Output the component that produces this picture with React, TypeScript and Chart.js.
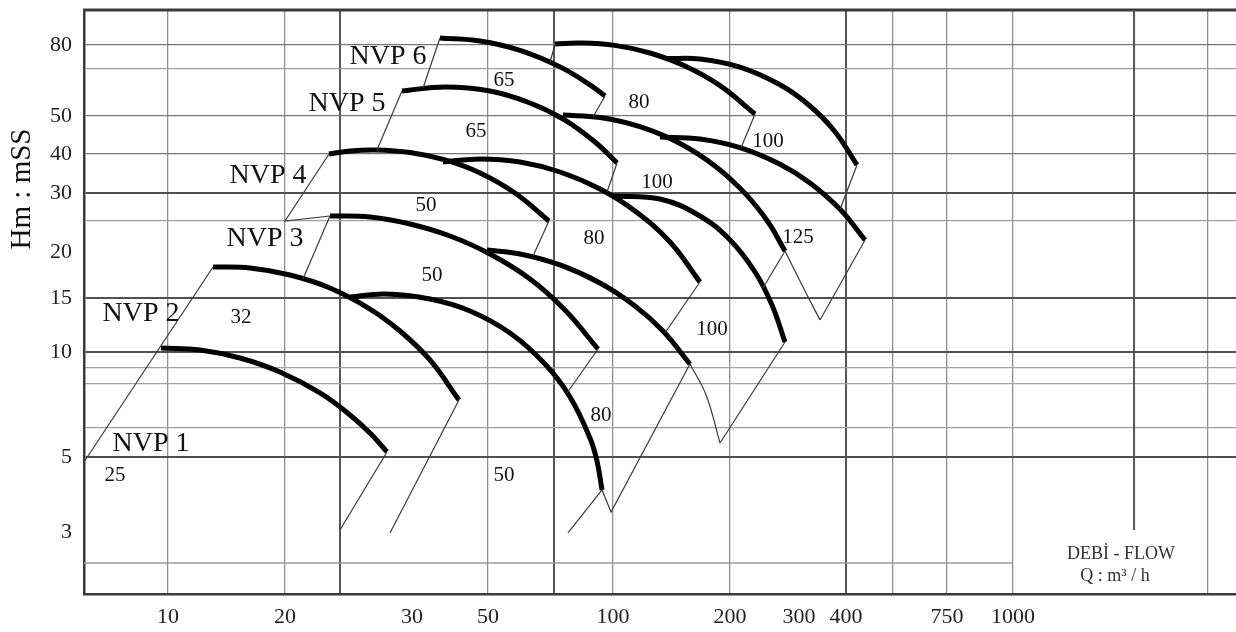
import React, { useEffect, useRef } from "react";
import { Chart, registerables } from "chart.js";

Chart.register(...registerables);

const FONT = "'Liberation Serif', 'Times New Roman', serif";

// Both axes are position axes (0–100 % of the plot width / height),
// because the printed flow and head scales are irregular; tick texts are placed at their read positions.
const X_MIN = 0;
const X_MAX = 100;
const Y_MIN = 0;
const Y_MAX = 100;

const xLabelPos = [7.29, 17.45, 28.47, 35.07, 45.92, 56.08, 62.07, 66.15, 74.91, 80.64];
const xLabels = ["10", "20", "30", "50", "100", "200", "300", "400", "750", "1000"];
const xGrid = [7.29, 17.45, 22.22, 35.07, 40.8, 45.92, 56.08, 66.15, 70.23, 74.91, 80.64, 97.57];
const xGridMajor = [22.22, 40.8, 66.15];
const xGridPartial = [91.15];
const xGridPartialEnd = [10.96];

const yLabelPos = [94.01, 81.85, 75.34, 68.66, 58.56, 50.68, 41.44, 23.46, 10.62];
const yLabels = ["80", "50", "40", "30", "20", "15", "10", "5", "3"];
const yGrid = [94.01, 89.9, 81.85, 75.34, 68.66, 63.87, 50.68, 41.44, 38.7, 35.96, 28.42, 23.46];
const yGridMajor = [68.66, 50.68, 41.44, 23.46];
const yGridMid = [94.01, 81.85, 75.34];
const yGridPartial = [5.31];
const yGridPartialEnd = [80.64];

// pump curves [x, y]
const nvp1_25 = [[6.68, 42.12], [10.07, 41.78], [13.54, 40.41], [17.01, 38.01], [20.49, 34.42], [23.09, 30.65], [25.0, 27.23], [26.3, 24.32]];
const nvp2_32 = [[11.2, 55.99], [14.41, 55.82], [17.88, 54.62], [21.35, 52.4], [24.83, 48.8], [27.43, 45.03], [30.03, 40.07], [32.55, 33.22]];
const nvp3_50a = [[21.35, 64.73], [24.83, 64.55], [28.3, 63.36], [31.77, 61.3], [35.24, 58.22], [38.72, 53.94], [41.75, 48.63], [44.62, 41.95]];
const nvp3_50b = [[23.09, 50.86], [26.13, 51.37], [30.03, 50.51], [33.51, 48.46], [36.98, 44.69], [40.02, 39.38], [42.19, 33.73], [43.92, 26.71], [44.53, 22.77], [44.97, 17.81]];
const nvp3_80 = [[34.98, 58.9], [37.85, 58.22], [41.32, 56.34], [44.79, 53.25], [47.83, 49.32], [50.26, 45.03], [52.6, 39.38]];
const nvp4_50 = [[21.27, 75.34], [23.09, 75.86], [25.26, 76.03], [28.3, 75.6], [31.34, 74.32], [34.38, 72.09], [37.41, 68.66], [40.36, 63.87]];
const nvp4_80 = [[31.16, 73.97], [34.38, 74.49], [37.85, 73.97], [41.32, 72.26], [44.79, 69.35], [47.83, 65.58], [50.87, 60.27], [53.47, 53.42]];
const nvp4_100 = [[45.92, 68.15], [50.0, 67.64], [53.47, 64.73], [56.08, 60.62], [58.25, 55.14], [59.72, 49.49], [60.85, 43.15]];
const nvp5_65 = [[27.6, 86.13], [31.34, 86.82], [35.24, 86.13], [38.72, 84.08], [41.75, 81.16], [44.36, 77.4], [46.27, 73.8]];
const nvp5_100 = [[41.58, 82.02], [44.79, 81.59], [48.26, 80.02], [51.74, 77.14], [54.77, 73.29], [57.38, 68.6], [59.38, 63.7], [60.85, 58.73]];
const nvp5_125 = [[50.0, 78.25], [53.47, 77.91], [56.94, 76.44], [60.42, 73.6], [63.02, 70.38], [65.63, 65.87], [67.8, 60.62]];
const nvp6_65 = [[30.9, 95.21], [34.38, 94.69], [37.85, 93.08], [41.32, 90.26], [43.92, 87.19], [45.23, 85.27]];
const nvp6_80 = [[40.89, 94.18], [43.06, 94.35], [46.09, 93.94], [49.13, 92.64], [52.17, 90.41], [55.21, 87.05], [58.25, 82.19]];
const nvp6_100 = [[50.43, 91.68], [53.47, 91.61], [56.94, 90.21], [60.42, 87.19], [63.02, 83.56], [65.19, 79.16], [67.1, 73.46]];

const pumpCurves = [nvp1_25, nvp2_32, nvp3_50a, nvp3_50b, nvp3_80, nvp4_50, nvp4_80, nvp4_100, nvp5_65, nvp5_100, nvp5_125, nvp6_65, nvp6_80, nvp6_100];

// thin straight guide lines
const guidesLow = [
  [[0, 22.6], [11.2, 55.99]],
  [[26.3, 24.32], [22.22, 10.96]],
  [[26.56, 10.45], [32.55, 33.22]],
  [[21.27, 75.34], [17.45, 63.87], [21.35, 64.73]],
  [[19.01, 53.94], [21.35, 64.73]],
];
const guidesMid = [
  [[25.43, 76.03], [27.6, 86.13]],
  [[29.43, 86.64], [30.9, 95.21]],
  [[40.36, 63.87], [38.98, 57.88]],
  [[44.62, 41.95], [41.93, 34.42]],
  [[44.97, 17.81], [42.01, 10.45]],
  [[44.97, 17.81], [45.75, 14.04], [52.6, 39.38]],
  [[55.21, 25.86], [60.85, 43.15]],
  [[53.47, 53.42], [50.43, 44.69]],
];
const guidesHigh = [
  [[46.27, 73.8], [45.4, 68.84]],
  [[45.23, 85.27], [44.18, 81.68]],
  [[40.89, 94.18], [40.45, 91.01]],
  [[58.25, 82.19], [57.03, 76.37]],
  [[67.1, 73.46], [65.63, 65.87]],
  [[60.85, 58.73], [58.94, 52.4]],
  [[63.89, 46.92], [67.8, 60.62]],
];
// thin curved continuations
const guideArcs = [
  [[52.6, 39.38], [54.0, 34.08], [55.21, 25.86]],
  [[60.85, 58.73], [62.41, 52.57], [63.89, 46.92]],
];

const modelNames = ["NVP 1", "NVP 2", "NVP 3", "NVP 4", "NVP 5", "NVP 6"];
const modelX = [5.82, 4.95, 15.71, 15.97, 22.83, 26.39];
const modelY = [25.68, 47.95, 60.79, 71.58, 83.9, 91.95];

const sizeNames = ["25", "32", "50", "50", "65", "65", "80", "100", "80", "100", "125", "100", "80", "50"];
const sizeX = [2.69, 13.63, 29.69, 30.21, 34.03, 36.46, 48.18, 49.74, 44.27, 59.38, 61.98, 54.51, 44.88, 36.46];
const sizeY = [20.21, 47.43, 66.61, 54.62, 79.28, 88.01, 84.08, 70.55, 60.96, 77.57, 61.13, 45.21, 30.65, 20.21];

const axisTitleY = "Hm : mSS";
const axisTitleYPos = 69.35;
const flowTitle = ["DEBİ - FLOW", "Q : m³ / h"];
const flowTitleX = [90.02, 89.5];
const flowTitleY = [6.85, 3.08];

const has = (arr: number[], v: number) => arr.some((a) => Math.abs(a - v) < 1e-6);
const xTicks = Array.from(new Set([...xGrid, ...xLabelPos])).sort((a, b) => a - b);
const yTicks = Array.from(new Set([...yGrid, ...yLabelPos])).sort((a, b) => a - b);

const toXY = (pts: number[][]) => pts.map(([x, y]) => ({ x, y }));

const decorPlugin = {
  id: "decor",
  beforeDatasetsDraw(chart: any) {
    const { ctx, chartArea } = chart;
    const xs = chart.scales.x;
    const ys = chart.scales.y;
    ctx.save();
    ctx.strokeStyle = "#3a3a3a";
    ctx.lineWidth = 3;
    ctx.beginPath();
    ctx.moveTo(chartArea.left - 1, chartArea.top);
    ctx.lineTo(chartArea.right, chartArea.top);
    ctx.stroke();
    ctx.strokeStyle = "#555";
    ctx.lineWidth = 2;
    xGridPartial.forEach((v, i) => {
      const px = xs.getPixelForValue(v);
      ctx.beginPath();
      ctx.moveTo(px, chartArea.top);
      ctx.lineTo(px, ys.getPixelForValue(xGridPartialEnd[i]));
      ctx.stroke();
    });
    ctx.strokeStyle = "#9a9a9a";
    ctx.lineWidth = 1.3;
    yGridPartial.forEach((v, i) => {
      const py = ys.getPixelForValue(v);
      ctx.beginPath();
      ctx.moveTo(chartArea.left, py);
      ctx.lineTo(xs.getPixelForValue(yGridPartialEnd[i]), py);
      ctx.stroke();
    });
    ctx.restore();
  },
  afterDatasetsDraw(chart: any) {
    const { ctx, chartArea } = chart;
    const xs = chart.scales.x;
    const ys = chart.scales.y;
    ctx.save();
    ctx.fillStyle = "#111";
    ctx.textAlign = "center";
    ctx.textBaseline = "middle";
    ctx.font = `28px ${FONT}`;
    modelNames.forEach((t, i) => {
      ctx.fillText(t, xs.getPixelForValue(modelX[i]), ys.getPixelForValue(modelY[i]));
    });
    ctx.font = `21px ${FONT}`;
    sizeNames.forEach((t, i) => {
      ctx.fillText(t, xs.getPixelForValue(sizeX[i]), ys.getPixelForValue(sizeY[i]));
    });
    ctx.font = `18px ${FONT}`;
    ctx.fillStyle = "#333";
    flowTitle.forEach((t, i) => {
      ctx.fillText(t, xs.getPixelForValue(flowTitleX[i]), ys.getPixelForValue(flowTitleY[i]));
    });
    ctx.fillStyle = "#111";
    ctx.font = `29px ${FONT}`;
    ctx.translate(chartArea.left - 62, ys.getPixelForValue(axisTitleYPos));
    ctx.rotate(-Math.PI / 2);
    ctx.fillText(axisTitleY, 0, 0);
    ctx.restore();
  },
};

export default function App() {
  const ref = useRef<HTMLCanvasElement | null>(null);

  useEffect(() => {
    if (!ref.current) return;
    const datasets: any[] = [];
    guidesLow.concat(guidesMid, guidesHigh).forEach((g) => {
      datasets.push({
        data: toXY(g),
        borderColor: "#3a3a3a",
        borderWidth: 1.2,
        pointRadius: 0,
        tension: 0,
        fill: false,
      });
    });
    guideArcs.forEach((g) => {
      datasets.push({
        data: toXY(g),
        borderColor: "#3a3a3a",
        borderWidth: 1.2,
        pointRadius: 0,
        tension: 0.4,
        fill: false,
      });
    });
    pumpCurves.forEach((c) => {
      datasets.push({
        data: toXY(c),
        borderColor: "#000",
        borderWidth: 5,
        pointRadius: 0,
        tension: 0.4,
        borderCapStyle: "butt",
        borderJoinStyle: "round",
        fill: false,
      });
    });

    const chart = new Chart(ref.current, {
      type: "line",
      data: { datasets },
      options: {
        animation: false,
        responsive: false,
        events: [],
        layout: { padding: { top: 10, right: 0, left: 0, bottom: 0 } },
        plugins: { legend: { display: false }, tooltip: { enabled: false } },
        scales: {
          x: {
            type: "linear",
            min: X_MIN,
            max: X_MAX,
            afterBuildTicks: (s: any) => {
              s.ticks = xTicks.map((v) => ({ value: v }));
            },
            afterFit: (s: any) => {
              s.height = 38;
              s.paddingLeft = 0;
              s.paddingRight = 0;
            },
            ticks: {
              autoSkip: false,
              maxRotation: 0,
              padding: 10,
              color: "#222",
              font: { family: FONT, size: 22 },
              callback: (v: any) => {
                const i = xLabelPos.findIndex((p) => Math.abs(p - v) < 1e-6);
                return i >= 0 ? xLabels[i] : "";
              },
            },
            grid: {
              drawTicks: false,
              color: (c: any) => {
                const v = c.tick ? c.tick.value : NaN;
                if (!has(xGrid, v)) return "rgba(0,0,0,0)";
                return has(xGridMajor, v) ? "#555" : "#8f8f8f";
              },
              lineWidth: (c: any) => {
                const v = c.tick ? c.tick.value : NaN;
                return has(xGridMajor, v) ? 2 : 1.3;
              },
            },
            border: { display: true, color: "#3a3a3a", width: 2.5 },
          },
          y: {
            type: "linear",
            min: Y_MIN,
            max: Y_MAX,
            afterBuildTicks: (s: any) => {
              s.ticks = yTicks.map((v) => ({ value: v }));
            },
            afterFit: (s: any) => {
              s.width = 84;
              s.paddingTop = 0;
              s.paddingBottom = 0;
            },
            ticks: {
              autoSkip: false,
              padding: 12,
              color: "#222",
              font: { family: FONT, size: 22 },
              callback: (v: any) => {
                const i = yLabelPos.findIndex((p) => Math.abs(p - v) < 1e-6);
                return i >= 0 ? yLabels[i] : "";
              },
            },
            grid: {
              drawTicks: false,
              color: (c: any) => {
                const v = c.tick ? c.tick.value : NaN;
                if (!has(yGrid, v)) return "rgba(0,0,0,0)";
                if (has(yGridMajor, v)) return "#505050";
                if (has(yGridMid, v)) return "#777";
                return "#a0a0a0";
              },
              lineWidth: (c: any) => {
                const v = c.tick ? c.tick.value : NaN;
                return has(yGridMajor, v) ? 2 : 1.3;
              },
            },
            border: { display: true, color: "#3a3a3a", width: 2.5 },
          },
        },
      },
      plugins: [decorPlugin],
    });
    return () => chart.destroy();
  }, []);

  return (
    <div style={{ position: "absolute", left: 0, top: 0, width: 1236, height: 632, background: "#fff" }}>
      <canvas ref={ref} width={1236} height={632} style={{ display: "block" }} />
    </div>
  );
}
